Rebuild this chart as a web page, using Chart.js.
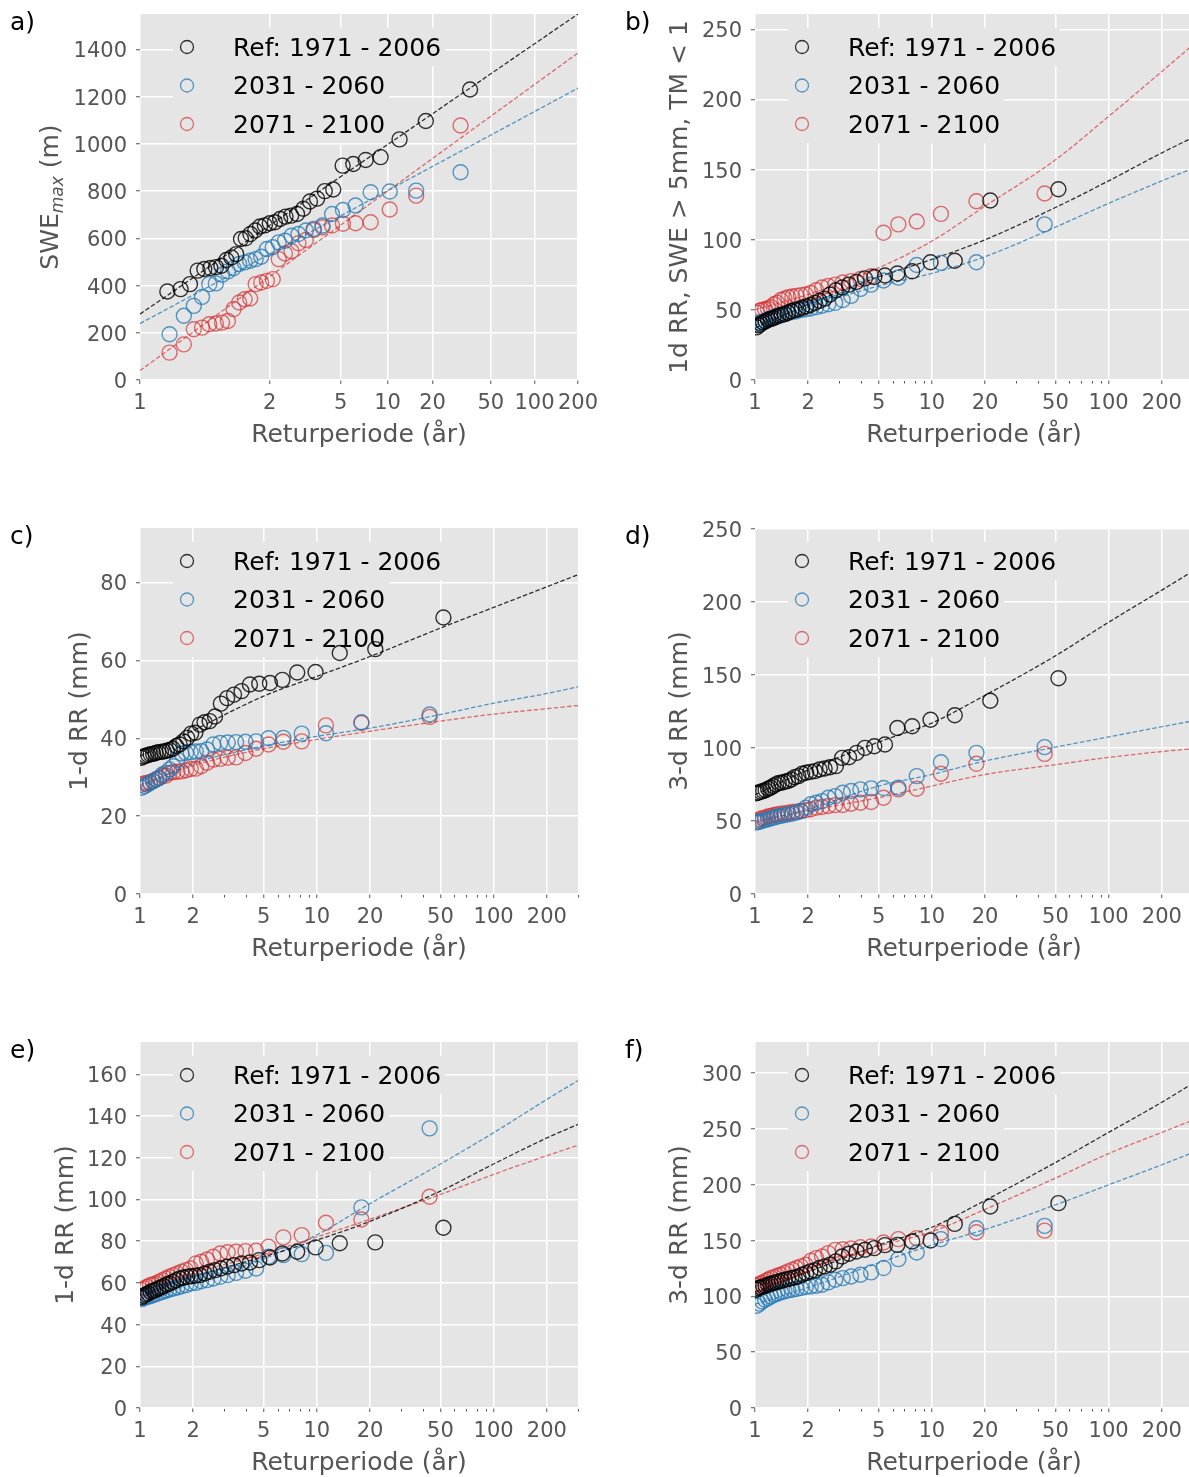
<!DOCTYPE html>
<html><head><meta charset="utf-8">
<script src="https://cdn.jsdelivr.net/npm/chart.js@4.4.0/dist/chart.umd.min.js"></script>
<style>
html,body{margin:0;padding:0;background:#fff;overflow:hidden;}
#wrap{position:relative;width:1189px;height:1477px;overflow:hidden;background:#fff;}
canvas{position:absolute;}
.lbl{position:absolute;font-family:'DejaVu Sans';font-size:25px;line-height:30px;color:#000;}
.ytl{position:absolute;width:320px;height:30px;line-height:30px;text-align:center;font-family:'DejaVu Sans';font-size:25px;color:#555;transform:rotate(-90deg);white-space:nowrap;}
.ytl sub{font-size:17px;font-style:italic;vertical-align:-0.3em;line-height:0;}
</style></head>
<body><div id="wrap">
<canvas id="ca" width="600" height="450" style="left:0;top:0"></canvas>
<canvas id="cb" width="600" height="450" style="left:615px;top:0"></canvas>
<canvas id="cc" width="600" height="450" style="left:0;top:514px"></canvas>
<canvas id="cd" width="600" height="450" style="left:615px;top:514px"></canvas>
<canvas id="ce" width="600" height="450" style="left:0;top:1028px"></canvas>
<canvas id="cf" width="600" height="450" style="left:615px;top:1028px"></canvas>
<div class="lbl" style="left:10px;top:7px">a)</div>
<div class="lbl" style="left:625px;top:7px">b)</div>
<div class="lbl" style="left:10px;top:521px">c)</div>
<div class="lbl" style="left:625px;top:521px">d)</div>
<div class="lbl" style="left:10px;top:1035px">e)</div>
<div class="lbl" style="left:625px;top:1035px">f)</div>
<div class="ytl" style="left:-110px;top:182px">SWE<sub>max</sub> (m)</div>
</div>
<script>
// ---------- shared labels ----------
const seriesNames = ['Ref: 1971 - 2006', '2031 - 2060', '2071 - 2100'];
const seriesColors = ['rgba(0,0,0,0.8)', 'rgba(31,119,180,0.75)', 'rgba(214,39,40,0.65)'];
const xTitle = 'Returperiode (år)';
const xTickLabels = [1, 2, 5, 10, 20, 50, 100, 200];
const xMinorTicks = [3, 4, 6, 7, 8, 9, 30, 40, 60, 70, 80, 90, 300];

// ---------- return periods (plotting positions) ----------
// panel a (Gumbel axis)
const tA35 = [36, 18, 12, 9, 7.2, 6, 5.143, 4.5, 4, 3.6, 3.273, 3, 2.769, 2.571, 2.4, 2.25, 2.118, 2, 1.895, 1.8, 1.714, 1.636, 1.565, 1.5, 1.44, 1.385, 1.333, 1.286, 1.241, 1.2, 1.161, 1.125, 1.091, 1.059, 1.029];
const tA30 = [31, 15.5, 10.33, 7.75, 6.2, 5.167, 4.429, 3.875, 3.444, 3.1, 2.818, 2.583, 2.385, 2.214, 2.067, 1.938, 1.824, 1.722, 1.632, 1.55, 1.476, 1.409, 1.348, 1.292, 1.24, 1.192, 1.148, 1.107, 1.069, 1.033];
// panels b-f (log axis)
const t36 = [52.0, 21.41, 13.48, 9.838, 7.745, 6.386, 5.433, 4.727, 4.184, 3.753, 3.402, 3.111, 2.866, 2.657, 2.476, 2.318, 2.180, 2.056, 1.947, 1.848, 1.758, 1.677, 1.604, 1.536, 1.474, 1.416, 1.363, 1.314, 1.268, 1.226, 1.186, 1.148, 1.113, 1.080, 1.049, 1.020];
const t30 = [43.43, 17.88, 11.26, 8.216, 6.468, 5.333, 4.537, 3.948, 3.494, 3.134, 2.841, 2.598, 2.394, 2.219, 2.068, 1.936, 1.820, 1.718, 1.626, 1.543, 1.469, 1.401, 1.339, 1.283, 1.231, 1.183, 1.139, 1.097, 1.059, 1.024];
const fitTA = [1.004, 10, 200];
const fitT = [1, 2, 5, 10, 20, 50, 100, 200, 300];

// ---------- panel a: SWEmax ----------
const aRef = [1230, 1097, 1019, 944, 932, 915, 908, 807, 800, 768, 756, 725, 703, 696, 692, 682, 668, 664, 655, 650, 633, 618, 600, 597, 533, 519, 508, 484, 478, 474, 470, 463, 406, 385, 375];
const aMid = [880, 802, 798, 795, 739, 720, 703, 654, 640, 633, 618, 611, 590, 583, 562, 555, 522, 512, 505, 498, 491, 473, 460, 446, 409, 406, 352, 314, 272, 194];
const aEnd = [1078, 781, 722, 668, 664, 662, 654, 647, 635, 593, 579, 545, 536, 512, 427, 420, 413, 406, 345, 342, 328, 300, 250, 243, 239, 236, 222, 215, 151, 116];
const aFitRef = [279, 997, 1550];
const aFitMid = [239, 802, 1236];
const aFitEnd = [40, 800, 1385];
const aYTicks = [0, 200, 400, 600, 800, 1000, 1200, 1400];

// ---------- panel b ----------
const bRef = [136, 128, 85, 84, 77.5, 76, 74.5, 73.5, 72.5, 70, 68, 66, 64, 61, 58, 56.5, 55, 53.5, 52.5, 51.5, 50.5, 50, 49, 48, 47, 46.5, 46, 45, 44, 43.5, 43, 42, 41, 40, 39, 37.5];
const bMid = [111, 84, 83.5, 82, 73, 71, 68, 65, 60, 57, 55, 54, 53, 52, 51, 50.5, 50, 49, 48.5, 48, 47, 46, 45.5, 45, 44, 43, 42, 41.5, 41, 40];
const bEnd = [133, 127.5, 118.5, 113, 111, 105, 74, 72, 70.5, 69.5, 68, 67, 66, 64, 62, 61, 60.5, 60, 59.5, 59, 58, 57, 55, 54, 52, 51, 50.5, 50, 49.5, 48];
const bFitRef = [37, 54, 73.5, 86, 100, 123, 142, 162, 173];
const bFitMid = [39, 52, 67, 76, 88, 109, 126, 142, 151];
const bFitEnd = [50, 61, 80, 99, 124, 157, 188, 220, 239];
const bYTicks = [0, 50, 100, 150, 200, 250];

// ---------- panel c ----------
const cRef = [71, 62.9, 61.9, 57, 56.9, 55, 54.2, 54, 53.8, 52.1, 51.2, 50.3, 48.9, 45.6, 44.4, 44.1, 43.5, 41.4, 41.2, 40.1, 39.2, 38.4, 38, 37.3, 37, 36.8, 36.6, 36.5, 36.4, 36.2, 36, 35.9, 35.7, 35.5, 35.3, 35];
const cMid = [46.1, 44.1, 41.3, 41.2, 40.1, 40, 39.2, 39.1, 39, 38.9, 38.8, 38.4, 37.1, 36.7, 36.6, 36.4, 36.2, 36.1, 34.5, 32.8, 32, 31.1, 30.7, 29.8, 29.4, 29, 28.5, 28.1, 27.7, 27.3];
const cEnd = [45.5, 43.9, 43.3, 39.2, 39.1, 38.4, 37.3, 36.2, 35.1, 35, 34.7, 34.5, 33.7, 32.8, 32.2, 32.1, 31.8, 31.5, 31.4, 31.3, 31.1, 30.4, 30.3, 29.8, 29.4, 29, 28.7, 28.5, 28.4, 28.1];
const cFitRef = [35.4, 42, 50.8, 55.9, 61, 68.3, 73.6, 78.9, 82];
const cFitMid = [27.5, 33.5, 38, 40.5, 42.6, 46.1, 49, 51.5, 53.2];
const cFitEnd = [28, 33, 37.3, 39.7, 41.8, 44.4, 46.2, 47.6, 48.4];
const cYTicks = [0, 20, 40, 60, 80];

// ---------- panel d ----------
const dRef = [147.7, 132.3, 122.3, 119.3, 114.8, 113.6, 102.3, 101.1, 100, 96.6, 93.6, 93.2, 87.5, 86.8, 85.9, 85.2, 84.1, 83.6, 83, 82.3, 80.7, 80, 78.4, 77.3, 76.8, 76.1, 76, 75, 73.9, 72.7, 72, 71, 70.5, 70, 69.5, 69];
const dMid = [100.5, 96.6, 90.2, 80.7, 72.7, 72.5, 72.3, 71.6, 70.5, 69.3, 67, 65.9, 63.6, 62.5, 61.4, 59, 56.8, 55.7, 55, 54.5, 54.1, 53.4, 53, 52.3, 51.8, 51.1, 50.7, 50, 49.5, 48.9];
const dEnd = [95.9, 89.1, 82.3, 72, 71.6, 65.9, 63, 62.5, 61.8, 60.9, 60.8, 60.2, 59.5, 59.1, 58, 57.3, 56.8, 56.4, 56.1, 55.7, 55.2, 55, 54.5, 54.1, 53.4, 53, 52.3, 51.8, 51.1, 50];
const dFitRef = [68, 85, 104, 117, 136, 163, 186, 208, 221];
const dFitMid = [49, 58, 73.9, 81.8, 91, 100.5, 107.5, 114.5, 118.5];
const dFitEnd = [50, 57, 65.9, 73.9, 81.8, 88.5, 93.5, 97.5, 99.5];
const dYTicks = [0, 50, 100, 150, 200, 250];

// ---------- panel e ----------
const eRef = [86.4, 79.4, 79, 77, 74.9, 74.1, 72.2, 70.9, 69.8, 69.3, 68.5, 67.7, 66.9, 66.1, 65.3, 64.5, 63.7, 63.4, 63.2, 62.9, 62.6, 62.1, 61.3, 60.5, 59.7, 59.2, 58.4, 57.8, 57.3, 56.5, 56.2, 55.7, 54.9, 54.4, 53.8, 53];
const eMid = [134.1, 96.2, 74.4, 73.8, 73.3, 72.5, 66.9, 65.8, 64.8, 63.7, 62.9, 62.1, 61.3, 60.8, 60, 59.7, 58.9, 58.4, 57.8, 57.3, 56.8, 56.2, 55.7, 55.2, 54.6, 54.1, 53.6, 53.3, 52.8, 52.2];
const eEnd = [101.3, 90.4, 88.8, 82.9, 81.8, 77.3, 75.4, 75.2, 74.9, 74.7, 74.1, 72.5, 71.2, 70.1, 69.3, 66.9, 66.1, 65.3, 64.5, 63.7, 62.9, 62.1, 61.3, 60.5, 59.7, 59.2, 58.9, 58.1, 57.3, 56.5];
const eFitRef = [54, 63, 72.5, 80.5, 89.5, 104, 117, 129.5, 136];
const eFitMid = [52, 60, 71.5, 83, 98, 117, 132, 148, 157];
const eFitEnd = [56, 64.5, 74, 82, 90.5, 102.4, 112, 121, 126];
const eYTicks = [0, 20, 40, 60, 80, 100, 120, 140, 160];

// ---------- panel f ----------
const fRef = [183.6, 180.6, 165, 150.1, 149.2, 146.2, 146, 143.3, 141.8, 140.3, 138.2, 135.8, 131.4, 128.4, 126.9, 125.4, 123.3, 122.4, 120.9, 119.4, 117.9, 117, 116.4, 115.5, 115, 114, 113.5, 112.6, 112, 111.1, 110.5, 109.6, 109, 108.1, 107.5, 106];
const fMid = [163.2, 161.1, 151.3, 139.4, 133.4, 125.4, 121.5, 119.4, 117.9, 116.4, 115, 112.6, 110.5, 109.6, 109, 108.4, 107.5, 106.6, 106, 105.4, 104.5, 103.6, 102.4, 101.5, 100, 98.5, 97, 95.5, 93.5, 91.7];
const fEnd = [159, 157.5, 157, 152.2, 151.3, 148.3, 144.7, 144.1, 142.9, 142.3, 141.7, 138.8, 135.8, 134.3, 131.9, 128.4, 126.9, 125.4, 123.9, 122.4, 120.9, 119.4, 118.5, 117.3, 116.4, 115, 113.5, 112, 111.1, 109.6];
const fFitRef = [104, 122, 146, 162, 186, 220, 247, 274, 291];
const fFitMid = [93, 108, 130, 146, 160, 182, 200, 218, 229];
const fFitEnd = [109, 125, 145, 158, 178, 206, 228, 247, 258];
const fYTicks = [0, 50, 100, 150, 200, 250, 300];

// ---------- helpers ----------
const FONT = "'DejaVu Sans'";
const gumbel = T => -Math.log(-Math.log(1 - 1 / T));

const bgPlugin = {
  id: 'bg',
  beforeDraw(chart) {
    const { ctx, chartArea: a } = chart;
    ctx.save();
    ctx.fillStyle = '#E5E5E5';
    ctx.fillRect(a.left, a.top, a.right - a.left, a.bottom - a.top);
    ctx.restore();
  }
};
const legendPlugin = {
  id: 'rowLegend',
  beforeDatasetsDraw(chart) {
    const { ctx, chartArea: { left, top } } = chart;
    ctx.save();
    ctx.font = "25px " + FONT;
    ctx.textBaseline = 'middle';
    ctx.textAlign = 'left';
    seriesNames.forEach((name, i) => {
      const y = top + 33 + i * 38.5;
      const w = ctx.measureText(name).width;
      ctx.fillStyle = '#E5E5E5';
      ctx.fillRect(left + 33, y - 19.25, 60 + w + 4, 38.5);
      ctx.beginPath();
      ctx.arc(left + 47, y, 6.5, 0, Math.PI * 2);
      ctx.strokeStyle = seriesColors[i];
      ctx.lineWidth = 1.3;
      ctx.stroke();
      ctx.fillStyle = '#000';
      ctx.fillText(name, left + 93, y + 2);
    });
    ctx.restore();
  }
};
const minorPlugin = {
  id: 'minorTicks',
  afterDraw(chart, args, opts) {
    if (!opts || !opts.show) return;
    const { ctx, chartArea: a, scales: { x } } = chart;
    ctx.save();
    ctx.strokeStyle = '#555';
    ctx.lineWidth = 1;
    xMinorTicks.forEach(t => {
      const px = Math.round(x.getPixelForValue(t)) + 0.5;
      if (px < a.left - 1 || px > a.right + 1) return;
      ctx.beginPath();
      ctx.moveTo(px, a.bottom + 1);
      ctx.lineTo(px, a.bottom + 3.5);
      ctx.stroke();
    });
    ctx.restore();
  }
};

function scatterDs(xs, ys, color, tx) {
  return {
    data: ys.map((y, i) => ({ x: tx(xs[i]), y })),
    showLine: false,
    pointRadius: 7.5,
    pointBorderWidth: 1.4,
    pointBackgroundColor: 'rgba(0,0,0,0)',
    pointBorderColor: color,
    borderColor: color,
    order: 1
  };
}
function lineDs(xs, ys, color, tx, smooth) {
  return {
    data: ys.map((y, i) => ({ x: tx(xs[i]), y })),
    showLine: true,
    pointRadius: 0,
    borderWidth: 1.3,
    borderColor: color,
    borderDash: [4.5, 2.2],
    cubicInterpolationMode: smooth ? 'monotone' : 'default',
    tension: 0,
    fill: false,
    order: 2
  };
}
function zeroPad(s) { s.paddingTop = 0; s.paddingBottom = 0; s.paddingLeft = 0; s.paddingRight = 0; }

function makePanel(p) {
  const tx = p.gumbel ? gumbel : (v => v);
  const xMin = p.gumbel ? gumbel(1.004) : 1;
  const xMax = p.gumbel ? gumbel(200) : 300;
  const fx = p.gumbel ? fitTA : fitT;
  const datasets = [
    scatterDs(p.tRef, p.ref, seriesColors[0], tx),
    scatterDs(p.tFut, p.mid, seriesColors[1], tx),
    scatterDs(p.tFut, p.end, seriesColors[2], tx),
    lineDs(fx, p.fitRef, seriesColors[0], tx, !p.gumbel),
    lineDs(fx, p.fitMid, seriesColors[1], tx, !p.gumbel),
    lineDs(fx, p.fitEnd, seriesColors[2], tx, !p.gumbel)
  ];
  return new Chart(document.getElementById(p.id), {
    type: 'scatter',
    data: { datasets },
    plugins: [bgPlugin, legendPlugin, minorPlugin],
    options: {
      responsive: false,
      animation: false,
      events: [],
      layout: { autoPadding: false, padding: { left: 0, top: 14, right: 22, bottom: 0 } },
      plugins: { legend: { display: false }, tooltip: { enabled: false }, minorTicks: { show: !p.gumbel } },
      scales: {
        x: {
          type: p.gumbel ? 'linear' : 'logarithmic',
          min: xMin, max: xMax,
          border: { display: false },
          grid: { color: '#ffffff', lineWidth: 1.5, tickColor: '#555555', tickLength: 4, tickWidth: 1 },
          afterBuildTicks: s => { s.ticks = xTickLabels.map(t => ({ value: p.gumbel ? (t === 1 ? xMin : gumbel(t)) : t })); },
          afterFit: s => { s.height = 70; zeroPad(s); },
          ticks: {
            autoSkip: false, maxRotation: 0, minRotation: 0, padding: 7,
            color: '#555555', font: { family: FONT, size: 21 },
            callback: (v, i) => String(xTickLabels[i])
          },
          title: { display: true, text: xTitle, color: '#555555', font: { family: FONT, size: 25, lineHeight: 1.2 }, padding: { top: 0, bottom: 0 } }
        },
        y: {
          type: 'linear', min: 0, max: p.yMax,
          border: { display: false },
          grid: { color: '#ffffff', lineWidth: 1.5, tickColor: '#555555', tickLength: 4, tickWidth: 1 },
          afterBuildTicks: s => { s.ticks = p.yTicks.map(v => ({ value: v })); },
          afterFit: s => { s.width = 140; zeroPad(s); },
          ticks: { padding: 9, labelOffset: 2.5, color: '#555555', font: { family: FONT, size: 21 }, callback: v => String(v) },
          title: { display: !!p.yTitle, text: p.yTitle || '', color: '#555555', font: { family: FONT, size: 25, lineHeight: 1.2 }, padding: { top: p.yPad, bottom: 0 } }
        }
      }
    }
  });
}

makePanel({ id: 'ca', gumbel: true, tRef: tA35, tFut: tA30, ref: aRef, mid: aMid, end: aEnd, fitRef: aFitRef, fitMid: aFitMid, fitEnd: aFitEnd, yMax: 1550, yTicks: aYTicks, yTitle: null, yPad: 0 });
makePanel({ id: 'cb', gumbel: false, tRef: t36, tFut: t30, ref: bRef, mid: bMid, end: bEnd, fitRef: bFitRef, fitMid: bFitMid, fitEnd: bFitEnd, yMax: 261, yTicks: bYTicks, yTitle: '1d RR, SWE > 5mm, TM < 1', yPad: 50 });
makePanel({ id: 'cc', gumbel: false, tRef: t36, tFut: t30, ref: cRef, mid: cMid, end: cEnd, fitRef: cFitRef, fitMid: cFitMid, fitEnd: cFitEnd, yMax: 94, yTicks: cYTicks, yTitle: '1-d RR (mm)', yPad: 65 });
makePanel({ id: 'cd', gumbel: false, tRef: t36, tFut: t30, ref: dRef, mid: dMid, end: dEnd, fitRef: dFitRef, fitMid: dFitMid, fitEnd: dFitEnd, yMax: 250.5, yTicks: dYTicks, yTitle: '3-d RR (mm)', yPad: 50 });
makePanel({ id: 'ce', gumbel: false, tRef: t36, tFut: t30, ref: eRef, mid: eMid, end: eEnd, fitRef: eFitRef, fitMid: eFitMid, fitEnd: eFitEnd, yMax: 175.5, yTicks: eYTicks, yTitle: '1-d RR (mm)', yPad: 51 });
makePanel({ id: 'cf', gumbel: false, tRef: t36, tFut: t30, ref: fRef, mid: fMid, end: fEnd, fitRef: fFitRef, fitMid: fFitMid, fitEnd: fFitEnd, yMax: 328, yTicks: fYTicks, yTitle: '3-d RR (mm)', yPad: 50 });
</script>
</body></html>
